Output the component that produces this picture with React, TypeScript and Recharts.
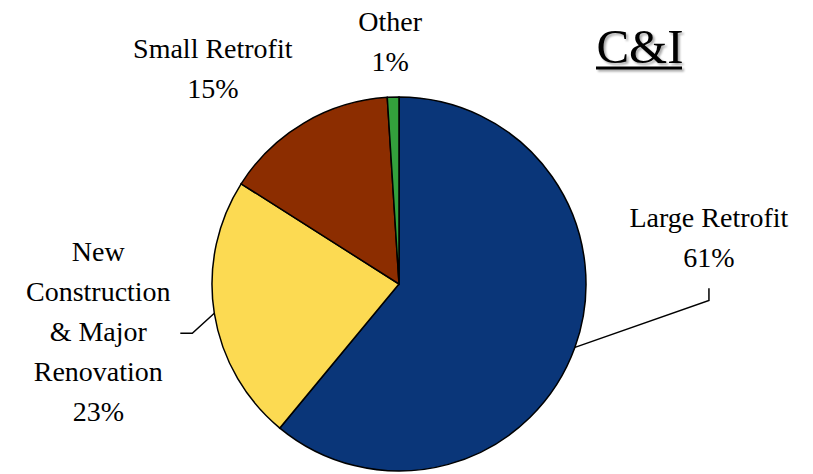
import React from "react";
import { PieChart, Pie, Cell } from "recharts";

// categories, in drawing order (clockwise from 12 o'clock)
const categories = [
  "Large Retrofit",
  "New\nConstruction\n& Major\nRenovation",
  "Small Retrofit",
  "Other",
];
const shares = [61, 23, 15, 1];
const COLORS = ["#0a3679", "#fcda52", "#8c2d00", "#33a13c"];

const data = categories.map((name, i) => ({ name, value: shares[i] }));
const total = shares.reduce((a, b) => a + b, 0);

const FONT = "'Liberation Serif', 'DejaVu Serif', serif";
const RAD = Math.PI / 180;

// where each label sits, relative to its slice's edge point
const LABEL_OFFSET = [
  { dx: 134, dy: -120, leader: [[134, -47], [134, -59]] },
  { dx: -116, dy: -52, leader: [[-22, 20], [-34, 20]] },
  { dx: -91, dy: -65, leader: null },
  { dx: -3, dy: -66, leader: null },
];

const renderLabel = (props: any) => {
  const { cx, cy, midAngle, outerRadius, index, name, value } = props;
  const ax = cx + outerRadius * Math.cos(-midAngle * RAD);
  const ay = cy + outerRadius * Math.sin(-midAngle * RAD);
  const off = LABEL_OFFSET[index];
  const lines = [...String(name).split("\n"), `${Math.round((value / total) * 100)}%`];
  return (
    <g key={`lbl-${index}`}>
      {off.leader && (
        <polyline
          points={[[0, 0], ...off.leader].map(([x, y]) => `${ax + x},${ay + y}`).join(" ")}
          fill="none"
          stroke="#000"
          strokeWidth={1.5}
        />
      )}
      <text
        x={ax + off.dx}
        y={ay + off.dy}
        textAnchor="middle"
        fontFamily={FONT}
        fontSize={28}
        fill="#000"
      >
        {lines.map((l, i) => (
          <tspan key={i} x={ax + off.dx} dy={i === 0 ? 0 : 40}>
            {l}
          </tspan>
        ))}
      </text>
    </g>
  );
};

export default function App() {
  return (
    <div style={{ position: "absolute", left: 0, top: 0, background: "#fff" }}>
      <PieChart width={813} height={474} margin={{ top: 0, right: 0, bottom: 0, left: 0 }}>
        <defs>
          <filter id="titleShadow" x="-20%" y="-20%" width="140%" height="140%">
            <feDropShadow dx={2} dy={2} stdDeviation={1.2} floodColor="#000" floodOpacity={0.35} />
          </filter>
        </defs>
        {/* title, underlined, with a soft shadow */}
        <g filter="url(#titleShadow)">
          <text x={640} y={63} textAnchor="middle" fontFamily={FONT} fontSize={49} fill="#000">
            C&amp;I
          </text>
          <line x1={596} x2={682} y1={68} y2={68} stroke="#000" strokeWidth={3} />
        </g>
        <Pie
          data={data}
          dataKey="value"
          nameKey="name"
          cx={399}
          cy={284}
          outerRadius={187}
          startAngle={90}
          endAngle={-270}
          stroke="#000"
          strokeWidth={1.5}
          label={renderLabel}
          labelLine={false}
          isAnimationActive={false}
        >
          {data.map((entry, index) => (
            <Cell key={`cell-${index}`} fill={COLORS[index % COLORS.length]} />
          ))}
        </Pie>
      </PieChart>
    </div>
  );
}
